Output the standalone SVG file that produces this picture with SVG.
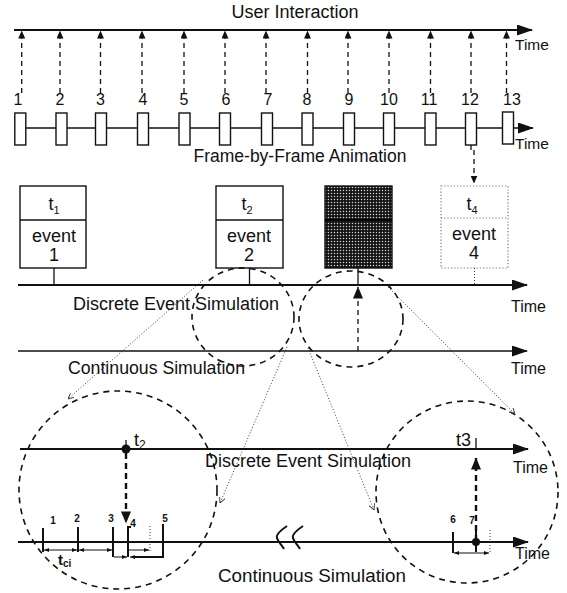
<svg xmlns="http://www.w3.org/2000/svg" width="567" height="593" viewBox="0 0 567 593">
<style>
text{font-family:"Liberation Sans",Arial,sans-serif;fill:#111}
.ln{stroke:#111;stroke-width:2;fill:none}
.thin{stroke:#111;stroke-width:1.3;fill:none}
.dash{stroke:#111;stroke-width:1.3;stroke-dasharray:5 4;fill:none}
.dashb{stroke:#111;stroke-width:2.4;stroke-dasharray:6 4;fill:none}
.circ{stroke:#111;stroke-width:1.6;stroke-dasharray:6 5;fill:none}
.dot{stroke:#222;stroke-width:0.9;stroke-dasharray:1 2;fill:none}
.frm{fill:#fff;stroke:#111;stroke-width:1.4}
.box{fill:#fff;stroke:#111;stroke-width:1.4}
.dbox{fill:#fff;stroke:#777;stroke-width:1.2;stroke-dasharray:1.2 2}
.n{font-size:16px;text-anchor:middle}
.lbl{font-size:18px}
.ev{font-size:18px;text-anchor:middle}
.sm{font-size:10px;font-weight:bold;text-anchor:middle}
</style>
<defs>
<marker id="big" viewBox="0 0 16 11" refX="15" refY="5.5" markerWidth="17" markerHeight="11" markerUnits="userSpaceOnUse" orient="auto"><path d="M0,0 L16,5.5 L0,11 z" fill="#111"/></marker>
<marker id="ah" viewBox="0 0 8 7" refX="7.5" refY="3.5" markerWidth="8" markerHeight="7" markerUnits="userSpaceOnUse" orient="auto"><path d="M0,0 L8,3.5 L0,7 z" fill="#111"/></marker>
<marker id="ahb" viewBox="0 0 12 10" refX="11.5" refY="5" markerWidth="13" markerHeight="10" markerUnits="userSpaceOnUse" orient="auto"><path d="M0,0 L12,5 L0,10 z" fill="#111"/></marker>
<marker id="tiny" viewBox="0 0 5 4" refX="5" refY="2" markerWidth="5" markerHeight="4" markerUnits="userSpaceOnUse" orient="auto-start-reverse"><path d="M0,0 L5,2 L0,4 z" fill="#111"/></marker>
<marker id="dtip" viewBox="0 0 6 6" refX="6" refY="3" markerWidth="6" markerHeight="6" markerUnits="userSpaceOnUse" orient="auto"><path d="M0,0 L6,3 L0,6" fill="none" stroke="#333" stroke-width="0.9"/></marker>
<pattern id="dots" width="3" height="3" patternUnits="userSpaceOnUse"><rect width="3" height="3" fill="#141414"/><circle cx="1.5" cy="1.5" r="0.75" fill="#d0d0d0"/></pattern>
</defs>

<g id="user-interaction">
<text x="295" y="18" class="lbl" text-anchor="middle">User Interaction</text>
<line x1="14" y1="30" x2="532" y2="30" class="ln" marker-end="url(#big)"/>
<text x="515" y="50" font-size="15.5">Time</text>
</g>

<g id="frames">
<line x1="14" y1="128" x2="533" y2="128" class="thin" marker-end="url(#big)"/>
<text x="515" y="149" font-size="15.5">Time</text>
<text x="300" y="162" font-size="17.5" text-anchor="middle">Frame-by-Frame Animation</text>
<g id="frame-1"><rect x="14.8" y="113" width="11" height="32" class="frm"/><text x="18" y="105" class="n">1</text></g>
<g id="frame-2"><rect x="56" y="113" width="11" height="32" class="frm"/><text x="60" y="105" class="n">2</text></g>
<g id="frame-3"><rect x="95.5" y="113" width="11" height="32" class="frm"/><text x="100.5" y="105" class="n">3</text></g>
<g id="frame-4"><rect x="137.5" y="113" width="11" height="32" class="frm"/><text x="143" y="105" class="n">4</text></g>
<g id="frame-5"><rect x="179" y="113" width="11" height="32" class="frm"/><text x="184" y="105" class="n">5</text></g>
<g id="frame-6"><rect x="219.5" y="113" width="11" height="32" class="frm"/><text x="226" y="105" class="n">6</text></g>
<g id="frame-7"><rect x="261.5" y="113" width="11" height="32" class="frm"/><text x="268" y="105" class="n">7</text></g>
<g id="frame-8"><rect x="302" y="113" width="11" height="32" class="frm"/><text x="307" y="105" class="n">8</text></g>
<g id="frame-9"><rect x="343.5" y="113" width="11" height="32" class="frm"/><text x="349" y="105" class="n">9</text></g>
<g id="frame-10"><rect x="383.5" y="113" width="11" height="32" class="frm"/><text x="389" y="105" class="n">10</text></g>
<g id="frame-11"><rect x="425" y="113" width="11" height="32" class="frm"/><text x="429" y="105" class="n">11</text></g>
<g id="frame-12"><rect x="465.5" y="113" width="11" height="32" class="frm"/><text x="470" y="105" class="n">12</text></g>
<g id="frame-13"><rect x="502.5" y="112" width="11" height="32" class="frm"/><text x="512" y="105" class="n">13</text></g>
</g>

<g id="event-1">
<rect x="20" y="186" width="66" height="82" class="box"/><line x1="20" y1="220" x2="86" y2="220" class="thin"/>
<text x="54" y="210" class="ev">t<tspan font-size="11" dy="4">1</tspan></text>
<text x="54" y="242" class="ev">event</text><text x="54" y="261" class="ev">1</text>
</g>
<g id="event-2">
<rect x="216" y="186" width="67" height="82" class="box"/><line x1="216" y1="220" x2="283" y2="220" class="thin"/>
<text x="247" y="210" class="ev">t<tspan font-size="11" dy="4">2</tspan></text>
<text x="249" y="242" class="ev">event</text><text x="249" y="261" class="ev">2</text>
</g>
<g id="event-3">
<rect x="325" y="186" width="67" height="82" fill="url(#dots)" stroke="#111" stroke-width="1.4"/>
<line x1="325" y1="220" x2="392" y2="220" stroke="#000" stroke-width="2"/>
</g>
<g id="event-4">
<rect x="441" y="186" width="67" height="82" class="dbox"/><line x1="441" y1="218" x2="508" y2="218" class="dbox"/>
<text x="472" y="210" class="ev">t<tspan font-size="11" dy="4">4</tspan></text>
<text x="474" y="240" class="ev">event</text><text x="474" y="259" class="ev">4</text>
</g>

<g id="discrete-axis">
<line x1="18" y1="285" x2="527" y2="285" class="ln" marker-end="url(#big)"/>
<text x="73" y="310" class="lbl">Discrete Event Simulation</text>
<text x="511" y="312" font-size="16">Time</text>
</g>
<g id="continuous-axis">
<line x1="18" y1="351" x2="527" y2="351" class="thin" stroke-width="1.6" marker-end="url(#big)"/>
<text x="68" y="374" font-size="17.7">Continuous Simulation</text>
<text x="511" y="374" font-size="16">Time</text>
</g>

<g id="zoom-circles">
<ellipse cx="243" cy="317" rx="51" ry="49" class="circ"/>
<ellipse cx="351" cy="319" rx="52" ry="48" class="circ"/>
<circle cx="118" cy="490" r="99" class="circ"/>
<circle cx="467" cy="492" r="91" class="circ"/>
</g>

<g id="detail-discrete">
<line x1="20" y1="449" x2="528" y2="449" class="ln" marker-end="url(#big)"/>
<text x="205" y="467" font-size="18">Discrete Event Simulation</text>
<text x="513" y="473" font-size="16">Time</text>
<circle cx="126" cy="449" r="4.5" fill="#111"/>
<line x1="126" y1="440" x2="126" y2="449" class="thin"/>
<text x="134" y="446" font-size="18">t<tspan font-size="12" dy="3">2</tspan></text>
<line x1="476" y1="438" x2="476" y2="449" class="thin"/>
<text x="456" y="446" font-size="18">t3</text>
</g>

<g id="detail-continuous">
<line x1="18" y1="542" x2="528" y2="542" class="ln" marker-end="url(#big)"/>
<path d="M287,526 C281,530 276,535 277,538 C278,542 282,545 284,549 M303,526 C297,530 292,535 293,538 C294,542 298,545 300,549" stroke="#111" stroke-width="2" fill="none"/>
<text x="218" y="582" font-size="18.8">Continuous Simulation</text>
<text x="515" y="559" font-size="16">Time</text>
<line x1="43" y1="528" x2="43" y2="552" class="ln"/>
<line x1="78" y1="527" x2="78" y2="552" class="ln"/>
<line x1="113" y1="527" x2="113" y2="557" class="ln"/>
<path d="M131,527 L128,527 L128,557" class="ln"/>
<line x1="150" y1="526" x2="150" y2="552" class="dot"/>
<path d="M163,524 L163,557 L132,557" class="ln"/>
<text x="53" y="524" class="sm">1</text>
<text x="77" y="522" class="sm">2</text>
<text x="111" y="522" class="sm">3</text>
<text x="133" y="527" class="sm">4</text>
<text x="165" y="522" class="sm">5</text>
<line x1="44" y1="550" x2="77" y2="550" stroke="#111" stroke-width="1" marker-start="url(#tiny)" marker-end="url(#tiny)"/>
<line x1="79" y1="550" x2="112" y2="550" stroke="#111" stroke-width="1" marker-start="url(#tiny)" marker-end="url(#tiny)"/>
<line x1="129" y1="550" x2="149" y2="550" stroke="#111" stroke-width="1" marker-end="url(#tiny)"/>
<line x1="114" y1="557" x2="127" y2="557" stroke="#111" stroke-width="1" marker-end="url(#tiny)"/>
<line x1="140" y1="557" x2="130" y2="557" stroke="#111" stroke-width="1" marker-end="url(#tiny)"/>
<text x="58" y="565" font-size="15" font-weight="bold">t<tspan font-size="10" dy="2">ci</tspan></text>
<line x1="453" y1="532" x2="453" y2="553" class="ln"/>
<line x1="476" y1="530" x2="476" y2="552" class="ln"/>
<circle cx="476" cy="542" r="4" fill="#111"/>
<line x1="490" y1="530" x2="490" y2="552" class="dot"/>
<line x1="454" y1="553" x2="489" y2="553" stroke="#111" stroke-width="1" marker-start="url(#tiny)" marker-end="url(#tiny)"/>
<text x="453" y="523" class="sm">6</text>
<text x="472" y="524" class="sm">7</text>
</g>

<g id="connectors">
<line x1="21.7" y1="93" x2="21.7" y2="31" class="dash" marker-end="url(#ah)"/>
<line x1="60" y1="93" x2="60" y2="31" class="dash" marker-end="url(#ah)"/>
<line x1="100.5" y1="93" x2="100.5" y2="31" class="dash" marker-end="url(#ah)"/>
<line x1="142" y1="93" x2="142" y2="31" class="dash" marker-end="url(#ah)"/>
<line x1="184" y1="93" x2="184" y2="31" class="dash" marker-end="url(#ah)"/>
<line x1="225" y1="93" x2="225" y2="31" class="dash" marker-end="url(#ah)"/>
<line x1="266" y1="93" x2="266" y2="31" class="dash" marker-end="url(#ah)"/>
<line x1="307.5" y1="93" x2="307.5" y2="31" class="dash" marker-end="url(#ah)"/>
<line x1="348" y1="93" x2="348" y2="31" class="dash" marker-end="url(#ah)"/>
<line x1="389" y1="93" x2="389" y2="31" class="dash" marker-end="url(#ah)"/>
<line x1="430.5" y1="93" x2="430.5" y2="31" class="dash" marker-end="url(#ah)"/>
<line x1="471" y1="93" x2="471" y2="31" class="dash" marker-end="url(#ah)"/>
<line x1="506.5" y1="93" x2="506.5" y2="31" class="dash" marker-end="url(#ah)"/>
<line x1="471" y1="145" x2="471" y2="150" class="thin"/>
<line x1="474" y1="150" x2="474" y2="183" class="dash" marker-end="url(#ah)"/>
<line x1="54" y1="268" x2="54" y2="285" class="thin"/>
<line x1="249.5" y1="268" x2="249.5" y2="285" class="thin"/>
<line x1="358" y1="268" x2="358" y2="285" class="thin"/>
<line x1="474.5" y1="268" x2="474.5" y2="285" class="dot"/>
<line x1="358" y1="351" x2="358" y2="287" class="dash" stroke-width="1.8" marker-end="url(#ahb)"/>
<line x1="203" y1="280" x2="68" y2="399" class="dot" marker-end="url(#dtip)"/>
<line x1="287" y1="347" x2="220" y2="503" class="dot" marker-end="url(#dtip)"/>
<line x1="308" y1="348" x2="374" y2="510" class="dot" marker-end="url(#dtip)"/>
<line x1="388" y1="287" x2="515" y2="414" class="dot" marker-end="url(#dtip)"/>
<line x1="126" y1="453" x2="126" y2="523" class="dashb" marker-end="url(#ahb)"/>
<line x1="476" y1="541" x2="476" y2="458" class="dashb" marker-end="url(#ahb)"/>
</g>
</svg>
